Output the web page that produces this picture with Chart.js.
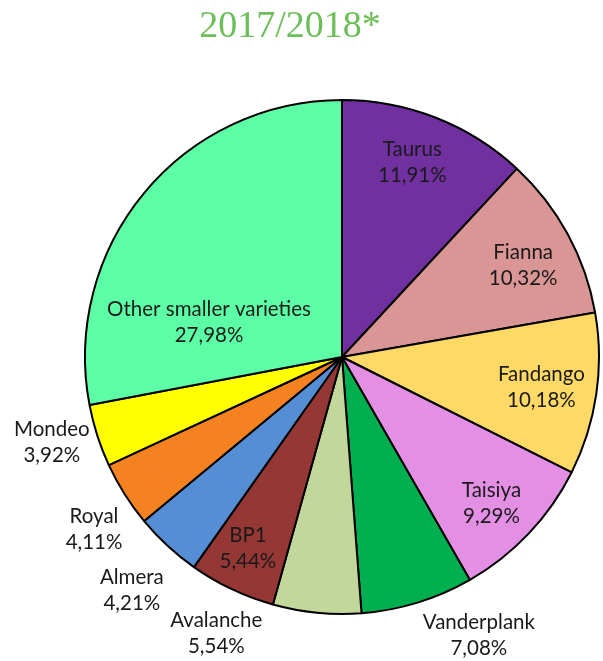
<!DOCTYPE html>
<html>
<head>
<meta charset="utf-8">
<script src="https://cdn.jsdelivr.net/npm/chart.js@4/dist/chart.umd.min.js"></script>
<style>
  html, body { margin: 0; padding: 0; background: #fff; }
  #wrap { width: 603px; height: 661px; position: relative; }
</style>
</head>
<body>
<div id="wrap"><canvas id="c"></canvas></div>
<script>
const title = "2017/2018*";
const categories = ["Taurus", "Fianna", "Fandango", "Taisiya", "Vanderplank", "Avalanche", "BP1", "Almera", "Royal", "Mondeo", "Other smaller varieties"];
const shares = [11.91, 10.32, 10.18, 9.29, 7.08, 5.54, 5.44, 4.21, 4.11, 3.92, 27.98];
const shareLabels = ["11,91%", "10,32%", "10,18%", "9,29%", "7,08%", "5,54%", "5,44%", "4,21%", "4,11%", "3,92%", "27,98%"];
const colors = ["#7030A0", "#DA9694", "#FFD966", "#E38FE3", "#00B050", "#C4D79B", "#953735", "#558ED5", "#F58220", "#FFFF00", "#5CFFA5"];

// label placement (fraction of radius, angular nudge in degrees)
const labelRadius = [0.806, 0.79, 0.785, 0.813, 1.206, 1.183, 0.83, 1.223, 1.176, 1.177, 0.535];
const labelShift = [-1.6, 1.7, 0.4, 0.9, -9.1, 18.8, 0.8, -0.8, -2.6, 1.4, -24.9];

const labelPlugin = {
  id: 'sliceLabels',
  afterDatasetsDraw(chart) {
    const ctx = chart.ctx;
    const meta = chart.getDatasetMeta(0);
    ctx.save();
    ctx.font = '20.5px Lato';
    ctx.fillStyle = '#1a1a1a';
    ctx.textAlign = 'center';
    ctx.textBaseline = 'middle';
    meta.data.forEach((arc, i) => {
      const p = arc.getProps(['x', 'y', 'startAngle', 'endAngle', 'outerRadius'], true);
      const mid = (p.startAngle + p.endAngle) / 2 + labelShift[i] * Math.PI / 180;
      const r = p.outerRadius * labelRadius[i];
      const x = p.x + Math.cos(mid) * r;
      const y = p.y + Math.sin(mid) * r;
      ctx.fillText(categories[i], x, y - 13);
      ctx.fillText(shareLabels[i], x, y + 13);
    });
    ctx.restore();
  }
};

const titlePlugin = {
  id: 'topTitle',
  afterDraw(chart) {
    const ctx = chart.ctx;
    ctx.save();
    ctx.font = '38px "Liberation Serif"';
    ctx.fillStyle = '#6CBF58';
    ctx.textAlign = 'center';
    ctx.textBaseline = 'middle';
    ctx.fillText(title, 290, 27);
    ctx.restore();
  }
};

new Chart(document.getElementById('c'), {
  type: 'pie',
  data: {
    labels: categories,
    datasets: [{
      data: shares,
      backgroundColor: colors,
      borderColor: '#000',
      borderWidth: 2,
      radius: 257
    }]
  },
  options: {
    responsive: true,
    maintainAspectRatio: false,
    animation: false,
    layout: { padding: { left: 81, right: 0, top: 53, bottom: 0 } },
    plugins: {
      legend: { display: false },
      title: { display: false },
      tooltip: { enabled: false }
    }
  },
  plugins: [labelPlugin, titlePlugin]
});
</script>
</body>
</html>
